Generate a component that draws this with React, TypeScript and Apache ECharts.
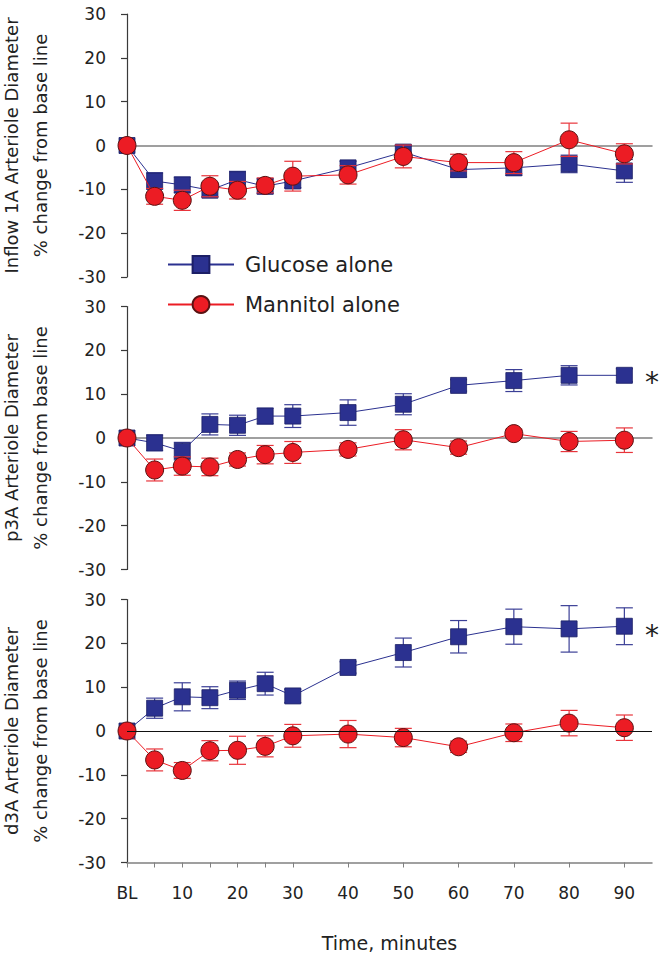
import React, { useEffect, useRef } from "react";
import * as echarts from "echarts";

const times = [0, 5, 10, 15, 20, 25, 30, 40, 50, 60, 70, 80, 90];
const xTickValues = [0, 5, 10, 15, 20, 25, 30, 40, 50, 60, 70, 80, 90];
const xLabelValues = [0, 10, 20, 30, 40, 50, 60, 70, 80, 90];

const panelTitles = ["Inflow 1A Arteriole Diameter", "p3A Arteriole Diameter", "d3A Arteriole Diameter"];
const yAxisSubtitle = "% change from base line";
const xAxisTitle = "Time, minutes";
const seriesNames = ["Glucose alone", "Mannitol alone"];

const glucose1 = [0, -8.1, -9.0, -10.2, -7.8, -9.3, -8.1, -5.1, -1.5, -5.5, -5.1, -4.2, -5.8];
const glucose1Err = [0, 1.9, 1.8, 1.5, 1.9, 1.7, 1.5, 1.5, 1.5, 1.7, 1.7, 2.0, 2.6];
const mannitol1 = [0, -11.6, -12.5, -9.3, -10.2, -9.1, -7.0, -6.7, -2.5, -3.9, -3.9, 1.3, -1.9];
const mannitol1Err = [0, 1.8, 2.3, 2.4, 2.0, 1.7, 3.4, 2.1, 2.6, 1.9, 2.5, 3.8, 2.3];

const glucose2 = [0, -1.1, -3.0, 3.1, 2.9, 5.0, 5.0, 5.8, 7.7, 12.0, 13.1, 14.3, 14.3];
const glucose2Err = [0, 1.8, 2.0, 2.4, 2.3, 1.8, 2.6, 2.9, 2.4, 1.3, 2.5, 2.2, 1.5];
const mannitol2 = [0, -7.3, -6.4, -6.6, -4.9, -3.8, -3.3, -2.6, -0.4, -2.2, 1.0, -0.8, -0.5];
const mannitol2Err = [0, 2.5, 2.1, 2.0, 1.5, 2.1, 2.5, 1.5, 2.3, 1.5, 1.0, 2.3, 2.8];

const glucose3 = [0, 5.2, 7.8, 7.6, 9.3, 10.8, 8.0, 14.5, 17.9, 21.5, 23.8, 23.3, 23.9];
const glucose3Err = [0, 2.3, 3.2, 2.5, 2.1, 2.6, 1.5, 1.3, 3.3, 3.7, 4.0, 5.3, 4.2];
const mannitol3 = [0, -6.6, -9.0, -4.5, -4.4, -3.5, -1.1, -0.7, -1.5, -3.6, -0.4, 1.8, 0.75];
const mannitol3Err = [0, 2.5, 1.8, 2.3, 3.2, 2.4, 2.6, 3.1, 2.1, 1.3, 2.0, 2.9, 2.9];

const glucosePanels = [glucose1, glucose2, glucose3];
const glucoseErrPanels = [glucose1Err, glucose2Err, glucose3Err];
const mannitolPanels = [mannitol1, mannitol2, mannitol3];
const mannitolErrPanels = [mannitol1Err, mannitol2Err, mannitol3Err];
const significant = [false, true, true];

const BLUE = "#2b3190";
const RED = "#ec1c24";
const FONT = "DejaVu Sans";

const gridTops = [14, 306.5, 599.5];
const gridH = 263;
const gridLeft = 127;
const gridW = 525;

function errorSeries(idx: number, vals: number[], errs: number[], color: string, z: number) {
  return {
    type: "custom",
    xAxisIndex: idx,
    yAxisIndex: idx,
    z,
    silent: true,
    data: times.map((t, i) => [t, vals[i] - errs[i], vals[i] + errs[i], errs[i]]),
    encode: { x: 0, y: [1, 2] },
    renderItem: (params: any, api: any) => {
      if (api.value(3) === 0) return null;
      const x = api.value(0);
      const lo = api.coord([x, api.value(1)]);
      const hi = api.coord([x, api.value(2)]);
      const hw = 8.5;
      const st = { stroke: color, lineWidth: 1.2 };
      return {
        type: "group",
        children: [
          { type: "line", shape: { x1: lo[0], y1: lo[1], x2: hi[0], y2: hi[1] }, style: st },
          { type: "line", shape: { x1: lo[0] - hw, y1: lo[1], x2: lo[0] + hw, y2: lo[1] }, style: st },
          { type: "line", shape: { x1: hi[0] - hw, y1: hi[1], x2: hi[0] + hw, y2: hi[1] }, style: st },
        ],
      };
    },
  };
}

export default function App() {
  const ref = useRef<HTMLDivElement>(null);
  useEffect(() => {
    if (!ref.current) return;
    const chart = echarts.init(ref.current, undefined, { renderer: "svg" });

    const grids = gridTops.map((top) => ({ left: gridLeft, top, width: gridW, height: gridH }));

    const xAxes = gridTops.map((_, i) => {
      const last = i === 2;
      return {
        type: "value",
        gridIndex: i,
        min: 0,
        max: 95,
        interval: 5,
        splitLine: { show: false },
        axisLine: {
          show: true,
          onZero: !last,
          lineStyle: { color: "#808080", width: 1.5 },
        },
        axisTick: {
          show: last,
          customValues: xTickValues,
          length: 5,
          lineStyle: { color: "#808080", width: 1 },
        },
        axisLabel: {
          show: last,
          customValues: xLabelValues,
          margin: 22,
          fontFamily: FONT,
          fontSize: 17,
          color: "#222",
          formatter: (v: number) => (v === 0 ? "BL" : String(v)),
        },
        name: last ? xAxisTitle : "",
        nameLocation: "middle",
        nameGap: 71,
        nameTextStyle: { fontFamily: FONT, fontSize: 19, color: "#222" },
      };
    });

    const yAxes = gridTops.map((_, i) => ({
      type: "value",
      gridIndex: i,
      min: -30,
      max: 30,
      interval: 10,
      splitLine: { show: false },
      axisLine: { show: true, lineStyle: { color: "#3a3a3a", width: 1.2 } },
      axisTick: { show: true, length: 6, lineStyle: { color: "#3a3a3a", width: 1.2 } },
      axisLabel: { margin: 21, fontFamily: FONT, fontSize: 17, color: "#222" },
    }));

    const series: any[] = [];
    for (let i = 0; i < 3; i++) {
      series.push(errorSeries(i, glucosePanels[i], glucoseErrPanels[i], "#3b3f96", 1));
      series.push({
        type: "line",
        name: seriesNames[0],
        xAxisIndex: i,
        yAxisIndex: i,
        z: 2,
        data: times.map((t, k) => [t, glucosePanels[i][k]]),
        symbol: "rect",
        symbolSize: 16,
        lineStyle: { color: BLUE, width: 1 },
        itemStyle: { color: BLUE, borderColor: "#1c1f66", borderWidth: 0.8 },
        markLine:
          i === 2
            ? {
                silent: true,
                symbol: "none",
                label: { show: false },
                lineStyle: { color: "#111", width: 1, type: "solid" },
                data: [{ yAxis: 0 }],
              }
            : undefined,
      });
      series.push(errorSeries(i, mannitolPanels[i], mannitolErrPanels[i], "#e8343b", 3));
      series.push({
        type: "line",
        name: seriesNames[1],
        xAxisIndex: i,
        yAxisIndex: i,
        z: 4,
        data: times.map((t, k) => [t, mannitolPanels[i][k]]),
        symbol: "circle",
        symbolSize: 18,
        lineStyle: { color: RED, width: 1 },
        itemStyle: { color: RED, borderColor: "#5a1212", borderWidth: 1 },
      });
    }

    const graphics: any[] = [];
    gridTops.forEach((top, i) => {
      const cy = top + gridH / 2;
      graphics.push({
        type: "text",
        x: 11,
        y: cy,
        rotation: Math.PI / 2,
        style: {
          text: panelTitles[i],
          font: `18px '${FONT}'`,
          fill: "#222",
          textAlign: "center",
          textVerticalAlign: "middle",
        },
      });
      graphics.push({
        type: "text",
        x: 40,
        y: cy,
        rotation: Math.PI / 2,
        style: {
          text: yAxisSubtitle,
          font: `18px '${FONT}'`,
          fill: "#222",
          textAlign: "center",
          textVerticalAlign: "middle",
        },
      });
    });
    const starY = [0, 377, 630];
    significant.forEach((s, i) => {
      if (!s) return;
      graphics.push({
        type: "text",
        x: 652,
        y: starY[i] + 5,
        style: {
          text: "*",
          font: `28px '${FONT}'`,
          fill: "#222",
          textAlign: "center",
          textVerticalAlign: "middle",
        },
      });
    });

    chart.setOption({
      animation: false,
      grid: grids,
      xAxis: xAxes,
      yAxis: yAxes,
      legend: {
        data: seriesNames,
        orient: "vertical",
        left: 162,
        top: 249,
        itemWidth: 66,
        itemHeight: 21,
        itemGap: 19,
        selectedMode: false,
        textStyle: { fontFamily: FONT, fontSize: 21, color: "#222", padding: [0, 0, 0, 6] },
      },
      series,
      graphic: graphics,
    });
    return () => chart.dispose();
  }, []);
  return (
    <div
      ref={ref}
      style={{ position: "absolute", left: 0, top: 0, width: 659, height: 954 }}
    />
  );
}
